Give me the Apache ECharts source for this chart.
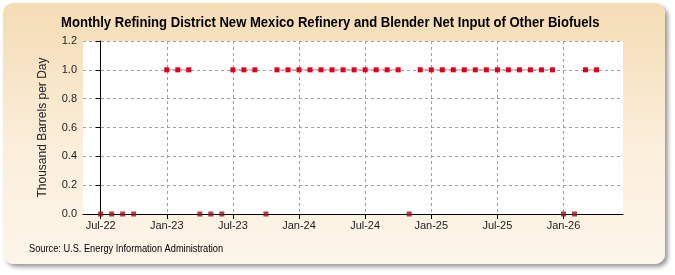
<!DOCTYPE html>
<html>
<head>
<meta charset="utf-8">
<script src="https://cdn.jsdelivr.net/npm/echarts@6/dist/echarts.min.js"></script>
<style>
  html, body { margin: 0; padding: 0; background: #fff; }
  .wrap { position: relative; width: 675px; height: 275px; }
  .panel {
    position: absolute; left: 3px; top: 3px; width: 662px; height: 261px;
    border-radius: 10px;
    background: linear-gradient(to bottom, #f4dcb4 0%, #fbeedb 55%, #fdf5ea 100%);
    box-shadow: 3px 3px 4px #9a9a9a;
  }
  #chart { position: absolute; left: 0; top: 0; width: 675px; height: 275px; }
</style>
</head>
<body>
<div class="wrap">
  <div class="panel"></div>
  <div id="chart"></div>
</div>
<script>
// month labels, index 0 = Jul-22
const months = [
  'Jul-22', 'Aug-22', 'Sep-22', 'Oct-22', 'Nov-22', 'Dec-22',
  'Jan-23', 'Feb-23', 'Mar-23', 'Apr-23', 'May-23', 'Jun-23',
  'Jul-23', 'Aug-23', 'Sep-23', 'Oct-23', 'Nov-23', 'Dec-23',
  'Jan-24', 'Feb-24', 'Mar-24', 'Apr-24', 'May-24', 'Jun-24',
  'Jul-24', 'Aug-24', 'Sep-24', 'Oct-24', 'Nov-24', 'Dec-24',
  'Jan-25', 'Feb-25', 'Mar-25', 'Apr-25', 'May-25', 'Jun-25',
  'Jul-25', 'Aug-25', 'Sep-25', 'Oct-25', 'Nov-25', 'Dec-25',
  'Jan-26', 'Feb-26', 'Mar-26', 'Apr-26'
]
// thousand barrels per day (null = no data)
const values = [
  0, 0, 0, 0, null, null,
  1, 1, 1, 0, 0, 0,
  1, 1, 1, 0, 1, 1,
  1, 1, 1, 1, 1, 1,
  1, 1, 1, 1, 0, 1,
  1, 1, 1, 1, 1, 1,
  1, 1, 1, 1, 1, 1,
  0, 0, 1, 1
]
const tickMonths = [0, 6, 12, 18, 24, 30, 36, 42]

const chart = echarts.init(document.getElementById('chart'))

// positive points get joined by a thin line, zero points sit on the axis
let upper = values.map((v, i) => [i, v > 0 ? v : null])
let zeros = values.map((v, i) => [i, v === 0 ? 0 : null]).filter(p => p[1] !== null)

const gridLine = { show: true, lineStyle: { color: '#a0a0a0', type: [3, 3], width: 1 } }
const labelFont = 'Liberation Sans, Arial, sans-serif'

chart.setOption({
  animation: false,
  graphic: [
    {
      // title, squeezed to look like the narrow font of the original
      type: 'text', x: 61, y: 30, scaleX: 0.872, z: 10,
      style: {
        text: 'Monthly Refining District New Mexico Refinery and Blender Net Input of Other Biofuels',
        font: 'bold 15px "Liberation Sans", Arial, sans-serif', fill: '#000',
        textVerticalAlign: 'bottom'
      }
    },
    {
      type: 'text', x: 29, y: 254, scaleX: 0.84, z: 10,
      style: {
        text: 'Source: U.S. Energy Information Administration',
        font: '11px "Liberation Sans", Arial, sans-serif', fill: '#000',
        textVerticalAlign: 'bottom'
      }
    }
  ],
  grid: { left: 83, right: 52, top: 41, bottom: 61, show: true, backgroundColor: '#fff', borderWidth: 0 },
  xAxis: {
    type: 'value', min: -1.6, max: 47.4,
    axisLine: { show: true, onZero: false, lineStyle: { color: '#000', width: 1 } },
    axisTick: { show: true, customValues: tickMonths, length: 5, lineStyle: { color: '#000' } },
    axisLabel: {
      customValues: tickMonths, color: '#222', fontSize: 11, margin: 6,
      fontFamily: labelFont,
      formatter: v => months[Math.round(v)] || ''
    },
    splitLine: gridLine
  },
  yAxis: {
    type: 'value', min: 0, max: 1.2, interval: 0.2,
    name: 'Thousand Barrels per Day', nameLocation: 'middle', nameGap: 34,
    nameTextStyle: { fontSize: 12, color: '#222', fontFamily: labelFont },
    axisLine: { show: true, lineStyle: { color: '#000', width: 1 } },
    axisTick: { show: true, length: 5, lineStyle: { color: '#000' } },
    axisLabel: { color: '#222', fontSize: 11, margin: 6, formatter: v => v.toFixed(1),
      fontFamily: labelFont },
    splitLine: gridLine
  },
  series: [
    {
      type: 'line', data: upper, connectNulls: false,
      symbol: 'rect', symbolSize: 5, showAllSymbol: true,
      lineStyle: { color: '#e88a8a', width: 1 },
      itemStyle: { color: '#e0001b' }
    },
    {
      type: 'scatter', data: zeros, symbol: 'rect', symbolSize: 5,
      itemStyle: { color: '#8e1520' }, z: 5
    }
  ]
})
</script>
</body>
</html>
